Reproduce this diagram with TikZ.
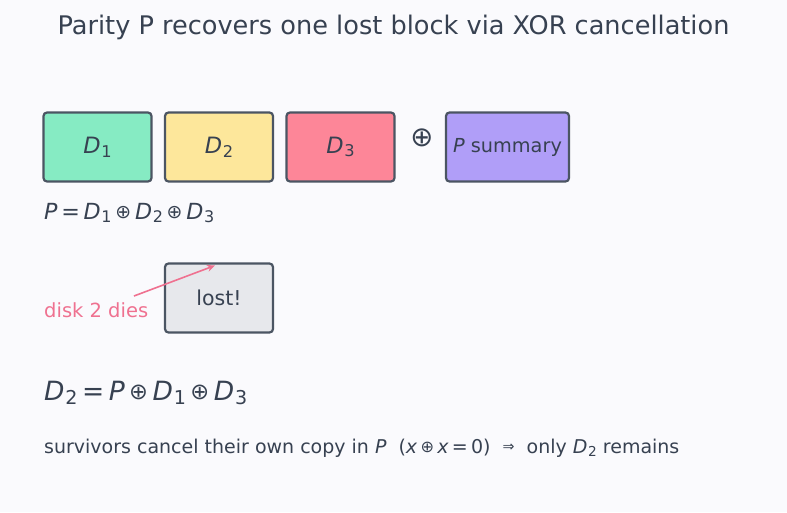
\documentclass[tikz,border=0pt]{standalone}
\usepackage{fontspec}
\usepackage{graphicx}
\setmainfont{DejaVu Sans}
\usetikzlibrary{arrows.meta}
\definecolor{bg}{HTML}{FAFAFD}
\definecolor{ink}{HTML}{374151}
\definecolor{edge}{HTML}{4B5563}
\definecolor{cA}{HTML}{86EBC3}
\definecolor{cB}{HTML}{FDE79B}
\definecolor{cC}{HTML}{FD8698}
\definecolor{cP}{HTML}{B09EF8}
\definecolor{cL}{HTML}{E7E8EC}
\definecolor{pink}{HTML}{EF7190}
\newcommand\Dn[1]{\textit{D}\kern0.03em\raisebox{-0.3ex}{\scalebox{0.72}{#1}}}
\newcommand\xo{\kern0.17em\raisebox{0.05ex}{\scalebox{0.85}{⊕}}\kern0.17em}
\newcommand\eqs{\kern0.17em=\kern0.17em}
\tikzset{
  box/.style={draw=edge, line width=2.2pt, rounded corners=3.5pt, minimum width=108pt, minimum height=69pt, inner sep=0pt, text=ink, font=\fontsize{22.5}{26}\selectfont},
  txt/.style={anchor=base west, inner sep=0pt, text=ink}
}
\begin{document}
\begin{tikzpicture}[x=1pt,y=-1pt]
\fill[bg] (0,0) rectangle (787,512);
\useasboundingbox (0,0) rectangle (787,512);
\node[anchor=base, inner sep=0pt, text=ink, font=\fontsize{25.6}{30}\selectfont] (title) at (393.5,34) {Parity P recovers one lost block via XOR cancellation};
\node[box, fill=cA] (d1) at (97.5,147) {\Dn{1}};
\node[box, fill=cB] (d2) at (219,147) {\Dn{2}};
\node[box, fill=cC] (d3) at (340.5,147) {\Dn{3}};
\node[inner sep=0pt, text=ink, font=\fontsize{27.5}{32}\selectfont] (op) at (422,138) {⊕};
\node[box, fill=cP, minimum width=123pt, font=\fontsize{19.3}{23}\selectfont] (p) at (507.5,147) {\textit{P} summary};
\node[txt, font=\fontsize{22.2}{26}\selectfont] (peq) at (44,219) {\textit{P}\eqs\Dn{1}\xo\Dn{2}\xo\Dn{3}};
\node[box, fill=cL, font=\fontsize{20.5}{24}\selectfont] (lost) at (219,298) {lost!};
\node[txt, text=pink, font=\fontsize{19.5}{23}\selectfont] (dies) at (44,317) {disk 2 dies};
\coordinate (as) at (134,296);
\coordinate (ae) at (215,265.5);
\draw[pink, line width=1.6pt, -{Stealth[length=8pt,width=7pt]}] (as) -- (ae);
\node[txt, font=\fontsize{26.5}{31}\selectfont] (d2eq) at (44,400) {\Dn{2}\eqs\textit{P}\xo\Dn{1}\xo\Dn{3}};
\node[txt, font=\fontsize{19}{23}\selectfont] (note) at (44,453) {survivors cancel their own copy in \textit{P}\ \ (\textit{x}\xo\textit{x}\eqs0)\ \ \raisebox{0.1ex}{\scalebox{0.75}{⇒}}\ \ only \Dn{2} remains};
\end{tikzpicture}
\end{document}
